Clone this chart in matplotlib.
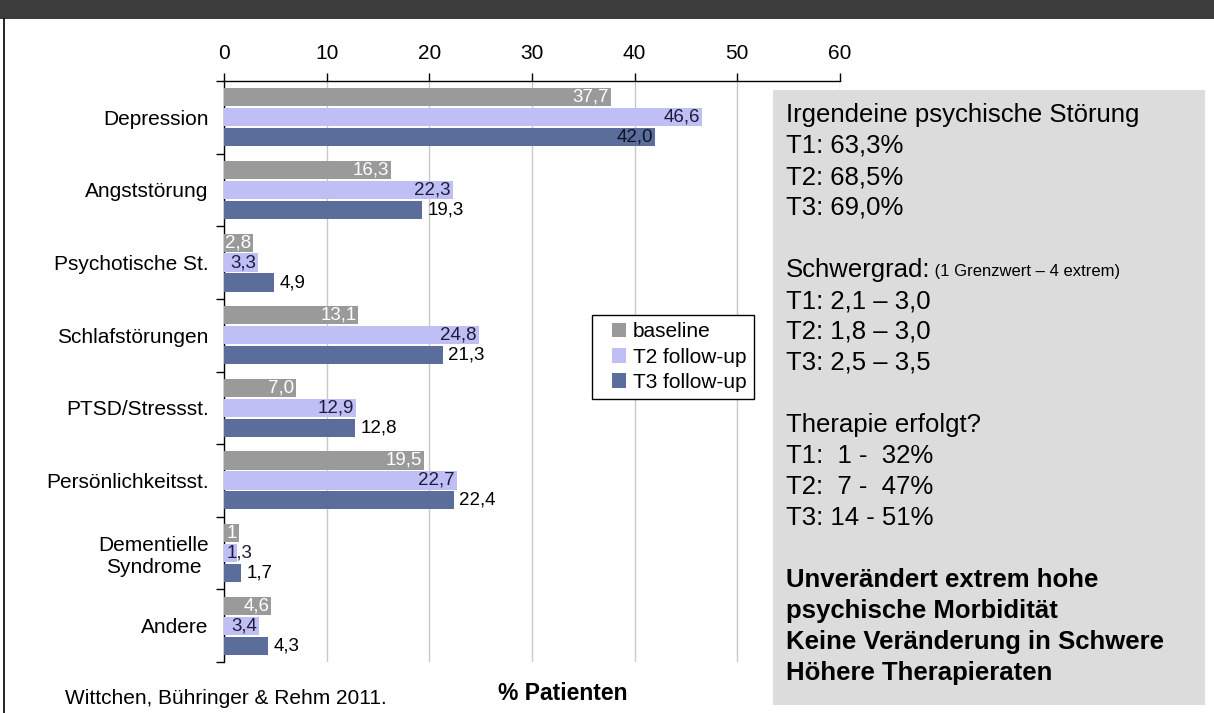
import matplotlib.pyplot as plt
from matplotlib.patches import Rectangle
from matplotlib.text import Annotation
from matplotlib.legend_handler import HandlerPatch
from matplotlib.container import BarContainer
import numpy as np

plt.rcParams["font.family"] = ["Liberation Sans", "DejaVu Sans"]

categories = ["Depression", "Angststörung", "Psychotische St.", "Schlafstörungen",
              "PTSD/Stressst.", "Persönlichkeitsst.", "Dementielle\nSyndrome", "Andere"]
baseline = [37.7, 16.3, 2.8, 13.1, 7.0, 19.5, 1.5, 4.6]
t2_followup = [46.6, 22.3, 3.3, 24.8, 12.9, 22.7, 1.3, 3.4]
t3_followup = [42.0, 19.3, 4.9, 21.3, 12.8, 22.4, 1.7, 4.3]
baseline_labels = ["37,7", "16,3", "2,8", "13,1", "7,0", "19,5", "1", "4,6"]
t2_labels = ["46,6", "22,3", "3,3", "24,8", "12,9", "22,7", "1,3", "3,4"]
t3_labels = ["42,0", "19,3", "4,9", "21,3", "12,8", "22,4", "1,7", "4,3"]
series_names = ["baseline", "T2 follow-up", "T3 follow-up"]
xticks = [0, 10, 20, 30, 40, 50, 60]

box_lines = [
    ("Irgendeine psychische Störung", "normal"),
    ("T1: 63,3%", "normal"),
    ("T2: 68,5%", "normal"),
    ("T3: 69,0%", "normal"),
    ("", "normal"),
    ("Schwergrad:", "normal"),
    ("T1: 2,1 – 3,0", "normal"),
    ("T2: 1,8 – 3,0", "normal"),
    ("T3: 2,5 – 3,5", "normal"),
    ("", "normal"),
    ("Therapie erfolgt?", "normal"),
    ("T1:  1 -  32%", "normal"),
    ("T2:  7 -  47%", "normal"),
    ("T3: 14 - 51%", "normal"),
    ("", "normal"),
    ("Unverändert extrem hohe", "bold"),
    ("psychische Morbidität", "bold"),
    ("Keine Veränderung in Schwere", "bold"),
    ("Höhere Therapieraten", "bold"),
]
schwergrad_note = "(1 Grenzwert – 4 extrem)"

colors = ["#9a9a9a", "#bfbff6", "#5b6e9b"]

W, H = 1214, 713
fig = plt.figure(figsize=(W / 100, H / 100), dpi=100)
fig.patch.set_facecolor("white")

# header bar and slide frame
fig.add_artist(Rectangle((0, 1 - 19 / H), 1, 19 / H, transform=fig.transFigure,
                         facecolor="#3c3c3c", edgecolor="none"))
fig.add_artist(plt.Line2D([4 / W, 4 / W], [0, 1 - 19 / H], transform=fig.transFigure,
                          color="black", lw=1.2))

ax = fig.add_axes([224 / W, 1 - 662 / H, (840 - 224) / W, (662 - 81) / H])
y = np.arange(len(categories))
h = 0.25
pitch = 0.275
series = [baseline, t2_followup, t3_followup]
for i, (vals, c, name) in enumerate(zip(series, colors, series_names)):
    ax.barh(y + (i - 1) * pitch, vals, height=h, color=c, label=name, zorder=3)

# value labels
lfs = 13.5
for k in range(len(categories)):
    for i, (vals, lbls) in enumerate(zip(series, [baseline_labels, t2_labels, t3_labels])):
        v, s = vals[k], lbls[k]
        yy = y[k] + (i - 1) * pitch
        if i == 2 and v < 40:
            ax.text(v + 0.5, yy, s, ha="left", va="center", fontsize=lfs, color="black", zorder=4)
            continue
        tc = "white" if i == 0 else ("#1c1c3a" if i == 1 else "#111122")
        if v < 0.85 * len(s):
            ax.text(0.3, yy, s, ha="left", va="center", fontsize=lfs, color=tc, zorder=4)
        else:
            ax.text(v - 0.2, yy, s, ha="right", va="center", fontsize=lfs, color=tc, zorder=4)

ax.set_xlim(0, 60)
ax.set_ylim(len(categories) - 0.5, -0.5)
ax.set_xticks(xticks)
ax.xaxis.tick_top()
ax.tick_params(axis="x", length=6, width=1, labelsize=15, pad=7, colors="black")
ax.set_yticks(y)
ax.set_yticklabels(categories, fontsize=15, multialignment="center")
ax.set_yticks(np.arange(-0.5, len(categories)), minor=True)
ax.tick_params(axis="y", which="major", length=0, pad=11)
ax.tick_params(axis="y", which="minor", length=6, width=1)
ax.grid(axis="x", color="#c8c8c8", lw=1, zorder=0)
for sp in ["right", "bottom"]:
    ax.spines[sp].set_visible(False)
for sp in ["top", "left"]:
    ax.spines[sp].set_linewidth(1)
    ax.spines[sp].set_color("black")


def square_handle(legend, orig_handle, xdescent, ydescent, width, height, fontsize):
    return Rectangle((-xdescent + width - height, -ydescent), height, height)


def copy_first_bar(tgt, src):
    tgt.update_from(src.patches[0])


leg = ax.legend(loc="upper left", bbox_to_anchor=(592 / W, 1 - 315 / H),
                bbox_transform=fig.transFigure, borderaxespad=0, fancybox=False,
                edgecolor="black", framealpha=1, fontsize=15, handlelength=1.3,
                handleheight=0.7, handletextpad=0.3, labelspacing=0.3,
                borderpad=0.35,
                handler_map={BarContainer: HandlerPatch(patch_func=square_handle,
                                                        update_func=copy_first_bar)})
leg.get_frame().set_linewidth(1)
leg.set_zorder(5)

# summary box
fig.add_artist(Rectangle((773 / W, 1 - 705 / H), (1205 - 773) / W, (705 - 90) / H,
                         transform=fig.transFigure, facecolor="#dcdcdc", edgecolor="none",
                         zorder=6))
line_h = 31
for n, (txt, wt) in enumerate(box_lines):
    if not txt:
        continue
    yc = 115 + n * line_h
    t = fig.text(786 / W, 1 - yc / H, txt, fontsize=18.5, fontweight=wt, va="center",
                 ha="left", zorder=7)
    if txt == "Schwergrad:":
        note = Annotation(" " + schwergrad_note, xy=(1, 0.12), xycoords=t, va="bottom",
                          ha="left", fontsize=12, annotation_clip=False)
        note.set_zorder(7)
        fig.add_artist(note)

fig.text(563 / W, 1 - 693 / H, "% Patienten", fontsize=16.5, fontweight="bold",
         ha="center", va="center")
fig.text(65 / W, 1 - 698 / H, "Wittchen, Bühringer & Rehm 2011.", fontsize=15,
         ha="left", va="center")

fig.savefig("out.png", dpi=100)
